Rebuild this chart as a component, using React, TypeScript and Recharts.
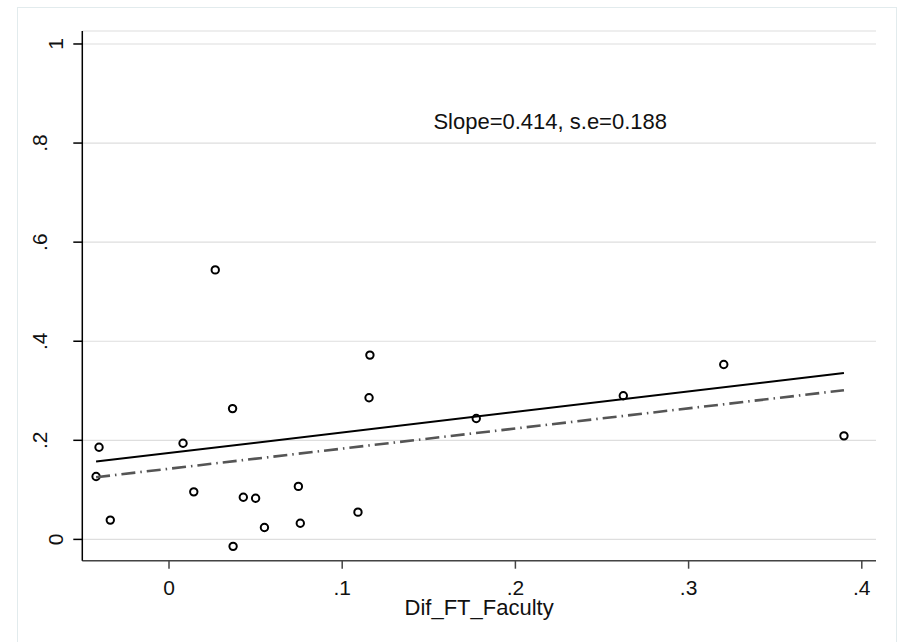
import React from "react";
import {
  ScatterChart,
  Scatter,
  XAxis,
  YAxis,
  CartesianGrid,
  ReferenceDot,
} from "recharts";

// Observations (Dif_FT_Faculty vs outcome)
const pointX = [
  -0.0404, -0.0421, -0.0339, 0.0081, 0.0143, 0.0267, 0.037, 0.0367, 0.0429, 0.05,
  0.0551, 0.0747, 0.0758, 0.1091, 0.116, 0.1155, 0.1774, 0.2623, 0.3203, 0.3897,
];
const pointY = [
  0.186, 0.127, 0.039, 0.194, 0.096, 0.544, -0.014, 0.264, 0.085, 0.083,
  0.024, 0.107, 0.0325, 0.055, 0.372, 0.286, 0.244, 0.29, 0.353, 0.209,
];

// Fitted lines (endpoints at min/max of x)
const fitX = [-0.0421, 0.3897];
const solidFitY = [0.157, 0.3358];
const dashFitY = [0.1255, 0.301];

// Axes
const xTicks = [0, 0.1, 0.2, 0.3, 0.4];
const xTickLabels = ["0", ".1", ".2", ".3", ".4"];
const yTicks = [0, 0.2, 0.4, 0.6, 0.8, 1];
const yTickLabels = ["0", ".2", ".4", ".6", ".8", "1"];
const xDomain = [-0.05006, 0.4082];
const yDomain = [-0.043, 1.0262];
const xTitle = "Dif_FT_Faculty";
const annotation = "Slope=0.414, s.e=0.188";
const annotationPos = { x: 0.2201, y: 0.828 };

const points = pointX.map((x, i) => ({ x, y: pointY[i] }));
const solidFit = fitX.map((x, i) => ({ x, y: solidFitY[i] }));
const dashFit = fitX.map((x, i) => ({ x, y: dashFitY[i] }));

const FONT = "'Liberation Sans', Arial, Helvetica, sans-serif";

const YTick = (props: any) => {
  const { x, y, index } = props;
  const label = yTickLabels[index] ?? String(props.payload?.value);
  const bx = label.startsWith(".") ? x - 26.3 : x - 10.3;
  return (
    <text
      x={bx}
      y={y}
      transform={`rotate(-90, ${bx}, ${y})`}
      textAnchor="middle"
      fontFamily={FONT}
      fontSize={21}
      fill="#111"
    >
      {label}
    </text>
  );
};

const XTick = (props: any) => {
  const { x, y, index } = props;
  const label = xTickLabels[index] ?? String(props.payload?.value);
  return (
    <text
      x={x}
      y={y + 26.3}
      textAnchor="middle"
      fontFamily={FONT}
      fontSize={21}
      fill="#111"
    >
      {label}
    </text>
  );
};

const Dot = (props: any) => {
  const { cx, cy } = props;
  if (cx == null || cy == null) return <g />;
  return <circle cx={cx} cy={cy} r={3.7} fill="none" stroke="#000" strokeWidth={2} />;
};

const NoShape = () => <g />;

const XTitle = (props: any) => {
  const vb = props.viewBox || { x: 82.3, y: 560.7, width: 793.7, height: 81.3 };
  return (
    <text
      x={vb.x + vb.width / 2}
      y={vb.y + 54.3}
      textAnchor="middle"
      fontFamily={FONT}
      fontSize={22}
      fill="#111"
    >
      {xTitle}
    </text>
  );
};

const AnnotationShape = (props: any) => {
  const { cx, cy } = props;
  return (
    <text x={cx} y={cy} textAnchor="middle" fontFamily={FONT} fontSize={22} fill="#111">
      {annotation}
    </text>
  );
};

export default function App() {
  return (
    <div
      style={{
        position: "absolute",
        left: 0,
        top: 0,
        width: 901,
        height: 642,
        overflow: "hidden",
        background: "#fff",
      }}
    >
      <div
        style={{
          position: "absolute",
          left: 17,
          top: 7,
          width: 880,
          height: 660,
          border: "1px solid #e2ebed",
          boxSizing: "border-box",
        }}
      />
      <div style={{ position: "absolute", left: 0, top: 0 }}>
        <ScatterChart
          width={901}
          height={642}
          margin={{ top: 31, right: 25, bottom: 0, left: 0 }}
        >
          <CartesianGrid vertical={false} stroke="#dedede" strokeWidth={1.2} />
          <XAxis
            type="number"
            dataKey="x"
            domain={xDomain}
            ticks={xTicks}
            allowDataOverflow
            height={81.3}
            tickSize={8}
            tickMargin={0}
            tick={<XTick />}
            axisLine={{ stroke: "#444", strokeWidth: 1.5 }}
            tickLine={{ stroke: "#444", strokeWidth: 1.5 }}
            label={{ content: <XTitle /> }}
          />
          <YAxis
            type="number"
            dataKey="y"
            domain={yDomain}
            ticks={yTicks}
            allowDataOverflow
            width={82.3}
            tickSize={9}
            tickMargin={0}
            tick={<YTick />}
            axisLine={{ stroke: "#000", strokeWidth: 1.5 }}
            tickLine={{ stroke: "#000", strokeWidth: 1.5 }}
          />
          <Scatter data={points} shape={<Dot />} isAnimationActive={false} />
          <Scatter
            data={solidFit}
            line={{ stroke: "#000", strokeWidth: 2 }}
            shape={<NoShape />}
            isAnimationActive={false}
          />
          <Scatter
            data={dashFit}
            line={{ stroke: "#555", strokeWidth: 2.6, strokeDasharray: "14 5 1.5 5" }}
            shape={<NoShape />}
            isAnimationActive={false}
          />
          <ReferenceDot
            x={annotationPos.x}
            y={annotationPos.y}
            r={0}
            shape={<AnnotationShape />}
          />
        </ScatterChart>
      </div>
    </div>
  );
}
